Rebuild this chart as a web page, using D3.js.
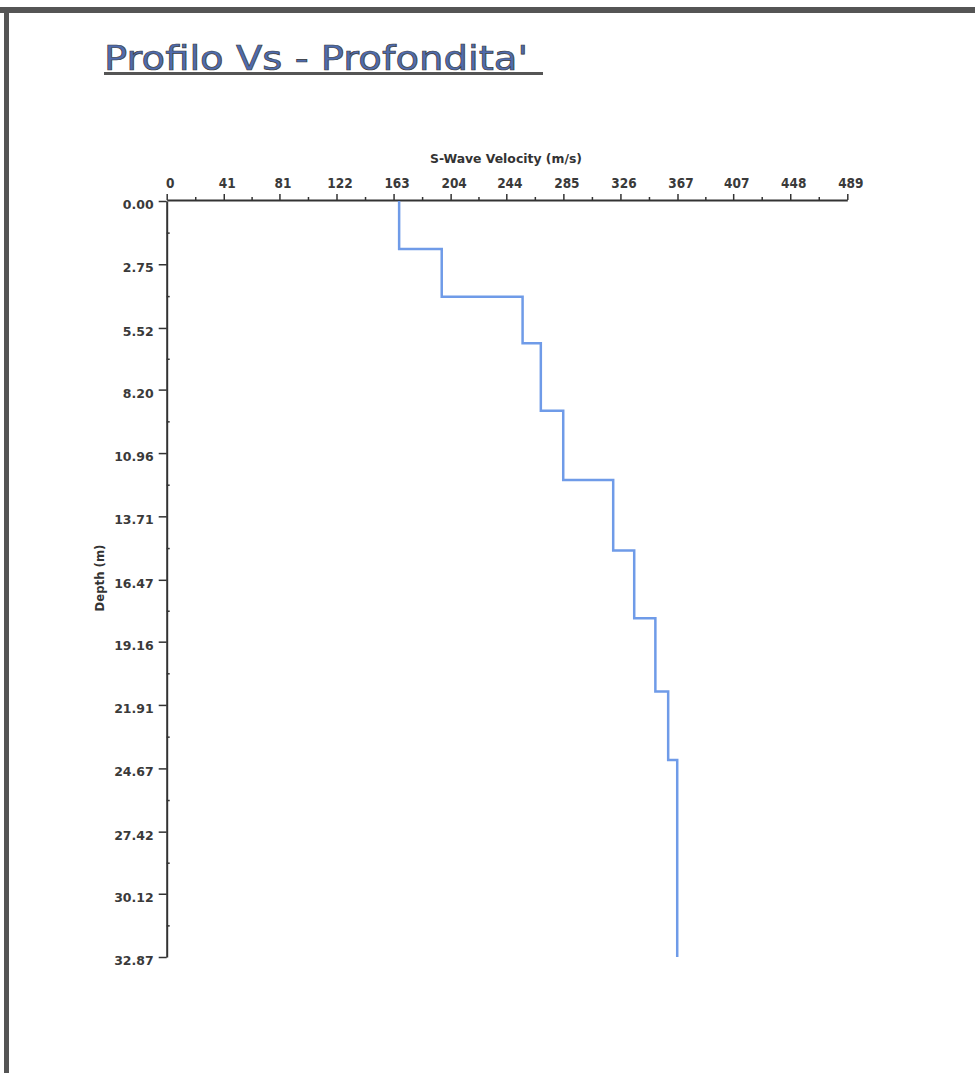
<!DOCTYPE html>
<html>
<head>
<meta charset="utf-8">
<script src="https://cdn.jsdelivr.net/npm/d3@7"></script>
<style>
  body { margin: 0; background: #fff; }
  svg { display: block; }
</style>
</head>
<body>
<svg width="975" height="1073"></svg>
<script>
// layer velocities (m/s) and bottom depth of each layer (m)
const vsLayers = [167, 197.6, 255.7, 268.8, 284.9, 320.8, 335.9, 351.1, 360.3, 366.8];
const layerBottoms = [2.09, 4.16, 6.19, 9.12, 12.13, 15.2, 18.14, 21.33, 24.3, 32.87];

const velocityTicks = [0, 41, 81, 122, 163, 204, 244, 285, 326, 367, 407, 448, 489];
const depthTicks = [0, 2.75, 5.52, 8.2, 10.96, 13.71, 16.47, 19.16, 21.91, 24.67, 27.42, 30.12, 32.87];

const svg = d3.select("svg");

// scan frame
svg.append("rect").attr("x", 0).attr("y", 7).attr("width", 975).attr("height", 6).attr("fill", "#555");
svg.append("rect").attr("x", 4).attr("y", 7).attr("width", 5).attr("height", 1066).attr("fill", "#555");

// title
svg.append("text")
  .attr("x", 104).attr("y", 70)
  .attr("textLength", 424).attr("lengthAdjust", "spacingAndGlyphs")
  .style("font-family", "'DejaVu Sans', sans-serif")
  .style("font-size", "34px")
  .attr("fill", "#4f6cae")
  .attr("stroke", "#3b3b3b").attr("stroke-width", 0.7)
  .text("Profilo Vs - Profondita'");
svg.append("line")
  .attr("x1", 104).attr("x2", 543).attr("y1", 73.5).attr("y2", 73.5)
  .attr("stroke", "#555").attr("stroke-width", 3);

const x = d3.scaleLinear().domain([0, 489]).range([166.7, 847.3]);
const y = d3.scaleLinear().domain([0, 32.87]).range([201, 957]);

const mid = (arr) => arr.slice(1).map((d, i) => (d + arr[i]) / 2);

// x axis on top
const xAxis = svg.append("g").attr("transform", "translate(0,200)")
  .call(d3.axisTop(x).tickValues(velocityTicks).tickFormat(d3.format("d")).tickSize(6).tickSizeOuter(0).tickPadding(6));
svg.append("g").attr("transform", "translate(0,200)")
  .call(d3.axisTop(x).tickValues(mid(velocityTicks)).tickFormat("").tickSize(3).tickSizeOuter(0))
  .select(".domain").remove();

// y axis on the left
const yAxis = svg.append("g").attr("transform", "translate(166.7,0)")
  .call(d3.axisLeft(y).tickValues(depthTicks).tickFormat(d3.format(".2f")).tickSize(8).tickSizeOuter(0).tickPadding(5));
svg.append("g").attr("transform", "translate(166.7,0)")
  .call(d3.axisRight(y).tickValues(mid(depthTicks)).tickFormat("").tickSize(3).tickSizeOuter(0))
  .select(".domain").remove();

svg.selectAll(".domain").attr("stroke", "#333").attr("stroke-width", 2);
svg.selectAll(".tick line").attr("stroke", "#333").attr("stroke-width", 1.5);
xAxis.selectAll("text")
  .attr("dx", 3)
  .style("font-family", "'DejaVu Sans Condensed', 'DejaVu Sans', sans-serif")
  .style("font-size", "13.5px").style("font-weight", "bold")
  .attr("fill", "#3a3a3a");
yAxis.selectAll("text")
  .attr("dy", "0.6em")
  .style("font-family", "'DejaVu Sans', sans-serif")
  .style("font-size", "12.5px").style("font-weight", "bold")
  .attr("fill", "#3a3a3a");

// axis titles
svg.append("text")
  .attr("x", 506).attr("y", 163).attr("text-anchor", "middle")
  .attr("textLength", 152).attr("lengthAdjust", "spacingAndGlyphs")
  .style("font-family", "'DejaVu Sans Condensed', 'DejaVu Sans', sans-serif")
  .style("font-size", "13px").style("font-weight", "bold")
  .attr("fill", "#333")
  .text("S-Wave Velocity (m/s)");
svg.append("text")
  .attr("transform", "translate(104,578) rotate(-90)")
  .attr("text-anchor", "middle")
  .style("font-family", "'DejaVu Sans Condensed', 'DejaVu Sans', sans-serif")
  .style("font-size", "13px").style("font-weight", "bold")
  .attr("fill", "#333")
  .text("Depth (m)");

// step profile
const pts = [];
vsLayers.forEach((v, i) => {
  const top = i === 0 ? 0 : layerBottoms[i - 1];
  pts.push([v, top], [v, layerBottoms[i]]);
});
svg.append("path")
  .datum(pts)
  .attr("fill", "none")
  .attr("stroke", "#6f9be8")
  .attr("stroke-width", 2.5)
  .attr("d", d3.line().x(d => x(d[0])).y(d => y(d[1])));
</script>
</body>
</html>
